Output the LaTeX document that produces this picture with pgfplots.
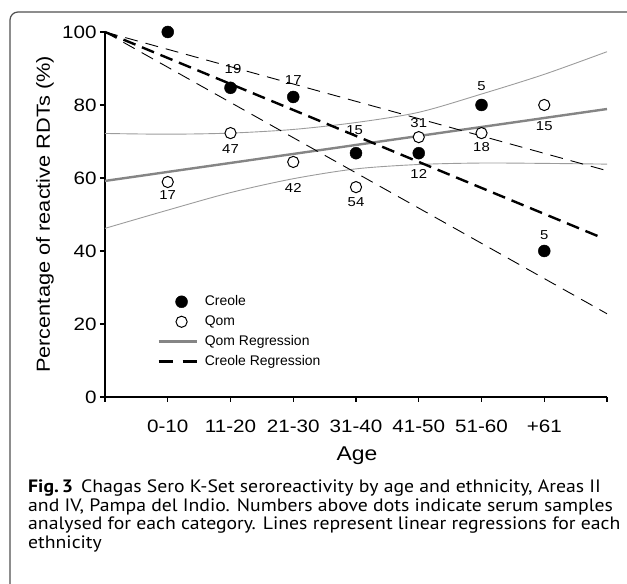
\documentclass[border=0pt]{standalone}
\usepackage{fontspec}
\usepackage{pgfplots}
\pgfplotsset{compat=1.18}
\setmainfont{Liberation Sans}
\newfontfamily\chartw[FakeStretch=1.15]{Liberation Sans}
\newfontfamily\capfont[FakeStretch=1.1]{PT Sans}
\definecolor{qgray}{HTML}{858585}
\definecolor{cigray}{HTML}{9C9C9C}
\definecolor{framegray}{HTML}{505050}
\pgfplotsset{
  legmark/.style={legend image code/.code={\draw[mark repeat=2,mark phase=2,##1] plot coordinates {(0bp,0bp) (23bp,0bp) (38bp,0bp)};}},
  legline/.style={legend image code/.code={\draw[##1] (0bp,0bp) -- (38bp,0bp);}},
}

\begin{document}
\begin{tikzpicture}[x=1bp,y=1bp]
\useasboundingbox (-105,-187) rectangle (522,397);
\draw[framegray, line width=1.2bp, rounded corners=8bp] (-95,-200) -- (-95,385) -- (560,385);
\begin{axis}[
  at={(0,0)}, anchor=south west,
  scale only axis, width=502bp, height=365bp,
  xmin=0, xmax=8, ymin=0, ymax=100,
  clip=false,
  axis lines=left,
  axis line style={line width=1.3bp, -},
  xtick={0,1,2,3,4,5,6,7,8},
  xticklabels={,0-10,11-20,21-30,31-40,41-50,51-60,+61,},
  ytick={0,20,40,60,80,100},
  tick align=outside,
  major tick length=5bp,
  tick style={line width=1.2bp, black},
  /pgf/number format/assume math mode=true,
  xticklabel style={font=\chartw\fontsize{18}{20}\selectfont, anchor=base, yshift=-30bp},
  yticklabel style={font=\chartw\fontsize{18}{20}\selectfont, anchor=east},
  xlabel={Age},
  ylabel={Percentage of reactive RDTs (\%)},
  every axis x label/.style={at={(axis description cs:0.502,-0.1726)}, anchor=base, font=\chartw\fontsize{20}{22}\selectfont},
  every axis y label/.style={at={(axis description cs:-0.1096,0.5)}, rotate=90, anchor=base, font=\chartw\fontsize{19}{21}\selectfont},
  legend style={draw=none, fill=none, inner sep=0pt, at={(axis cs:0.83,28.2)}, anchor=north west,
    font=\fontsize{14}{16}\selectfont,
    nodes={inner sep=1bp, text height=10bp, text depth=3bp},
    row sep=5bp, /tikz/column sep=6bp},
  legend cell align=left,
]
% legend images
\addlegendimage{only marks, mark=*, mark size=6bp, black, legmark}
\addlegendentry{Creole}
\addlegendimage{only marks, mark=o, mark size=5.6bp, black, line width=1bp, legmark}
\addlegendentry{Qom}
\addlegendimage{qgray, line width=2.6bp, legline}
\addlegendentry{Qom Regression}
\addlegendimage{black, line width=2.6bp, dash pattern=on 14bp off 10bp, legline}
\addlegendentry{Creole Regression}

% Qom confidence band
\addplot[forget plot, cigray, line width=0.9bp, smooth] coordinates {
 (0,72.2) (1,72.0) (2,72.3) (3,73.3) (4,75.2) (5,78.0) (6,83.0) (7,88.4) (8,94.6)};
\addplot[forget plot, cigray, line width=0.9bp, smooth] coordinates {
 (0,46.2) (1,51.2) (2,56.0) (3,59.8) (4,62.5) (5,63.7) (6,64.1) (7,64.0) (8,63.8)};
% Qom regression
\addplot[forget plot, qgray, line width=2.4bp] coordinates {(0,59.2) (8,78.9)};
% Creole confidence band
\addplot[forget plot, black, line width=0.9bp, dash pattern=on 13bp off 8bp] coordinates {(0,100) (8,62.0)};
\addplot[forget plot, black, line width=0.9bp, dash pattern=on 13bp off 8bp] coordinates {(0,100) (8,22.8)};
% Creole regression
\addplot[forget plot, black, line width=2.4bp, dash pattern=on 13bp off 7bp] coordinates {(0,100) (7.95,43.4)};

% Qom points
\addplot[forget plot, only marks, mark=*, mark size=5.6bp, draw=black, fill=white, line width=1bp] coordinates {
 (1,58.9) (2,72.3) (3,64.4) (4,57.5) (5,71.2) (6,72.3) (7,80.0)};
% Creole points
\addplot[forget plot, only marks, mark=*, mark size=6bp, black] coordinates {
 (1,100) (2,84.7) (3,82.2) (4,66.8) (5,66.8) (6,80.0) (7,40.0)};

% sample counts
\begin{scope}[every node/.style={font=\chartw\fontsize{13}{14}\selectfont, inner sep=0pt}]
\node at (axis cs:2.04,89.9) {19};
\node at (axis cs:3.0,86.8) {17};
\node at (axis cs:3.98,73.2) {15};
\node at (axis cs:5.0,61.1) {12};
\node at (axis cs:6.0,85.2) {5};
\node at (axis cs:7.0,44.4) {5};
\node at (axis cs:1.0,55.3) {17};
\node at (axis cs:2.0,67.9) {47};
\node at (axis cs:3.0,57.3) {42};
\node at (axis cs:4.0,53.4) {54};
\node at (axis cs:5.0,75.1) {31};
\node at (axis cs:6.0,68.5) {18};
\node at (axis cs:7.0,74.2) {15};
\end{scope}
\end{axis}
\begin{scope}[every node/.style={anchor=base west, inner sep=0pt, font=\capfont\fontsize{18}{19}\selectfont}]
\node at (-77,-95.7) {\textbf{Fig.\,3}\hspace{8bp}Chagas Sero K-Set seroreactivity by age and ethnicity, Areas II};
\node at (-77,-114.7) {and IV, Pampa del Indio. Numbers above dots indicate serum samples};
\node at (-77,-132.7) {analysed for each category. Lines represent linear regressions for each};
\node at (-77,-151.0) {ethnicity};
\end{scope}
\end{tikzpicture}
\end{document}
